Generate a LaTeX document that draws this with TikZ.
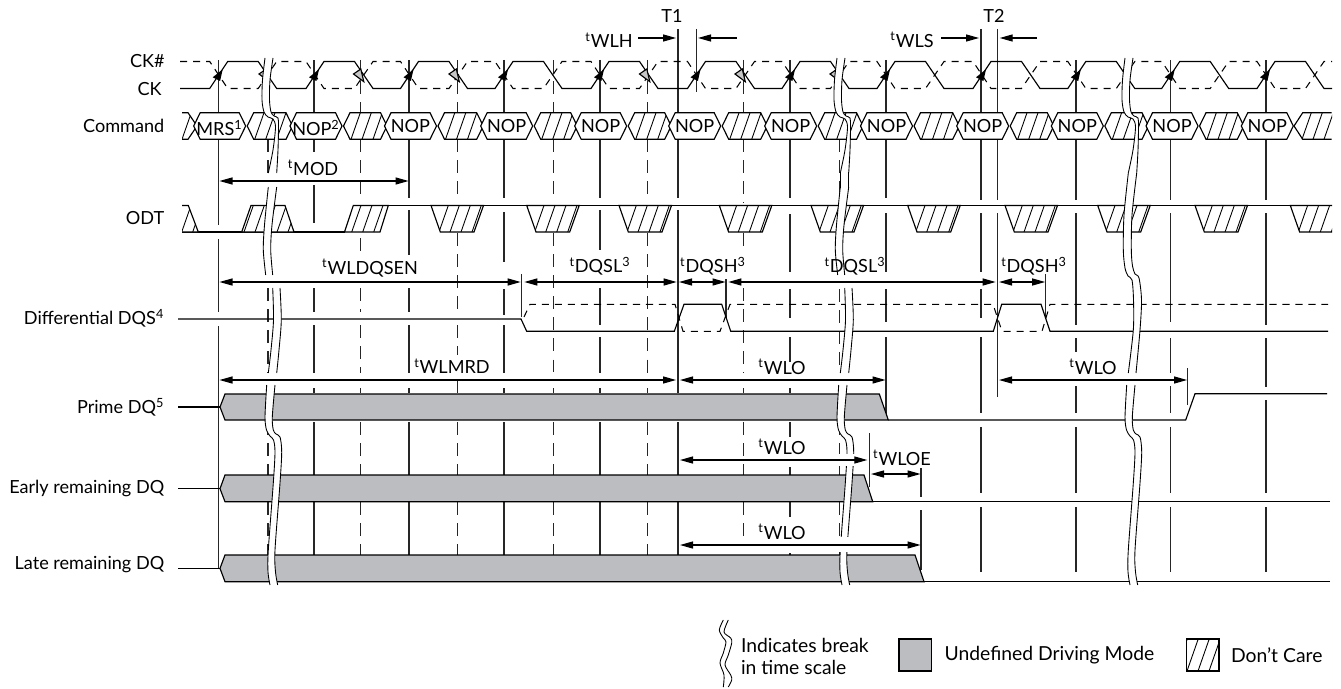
\documentclass[tikz,border=0pt]{standalone}
\usepackage{fontspec}
\setmainfont{Lato}
\usepackage{tikz}
\usetikzlibrary{arrows.meta}

\definecolor{undefgray}{HTML}{BCBDC0}
\newcommand{\tparam}[1]{\textsuperscript{t}#1}
% #1 closed path, #2 first hatch x, #3 lower y, #4 upper y
\newcommand{\hatchfill}[4]{%
  \fill[white] #1;
  \begin{scope}
    \clip #1;
    \foreach \h in {0,11,...,66}
      \draw[hatchline] (#2+\h,#3) -- (#2+\h+0.35*#3-0.35*#4,#4);
  \end{scope}
}
\newcommand{\hatchshape}[4]{\hatchfill{#1}{#2}{#3}{#4}\draw[wave] #1;}
% #1 left curve from top to bottom, #2 right curve from bottom to top
\newcommand{\breakpart}[2]{%
  \fill[white] plot[smooth] coordinates {#1} -- plot[smooth] coordinates {#2} -- cycle;
  \draw[breakline] plot[smooth] coordinates {#1};
  \draw[breakline] plot[smooth] coordinates {#2};
}
\newcommand{\breaktop}{\breakpart
  {(265,58)(262.5,80)(262,100)(264,112)(268,117)(273,119)(275.5,127)(273,150)(268.3,173)}
  {(276.7,173)(278,150)(278.5,127)(278,118)(274,116)(271,112)(269.5,100)(270,80)(273,58)}}
\newcommand{\breakmid}{\breakpart
  {(268.3,187)(264.5,225)(263.3,250)(265.7,275)}
  {(272.7,275)(270.7,250)(272,225)(276.7,187)}}
\newcommand{\breaklow}{\breakpart
  {(272.7,288)(273.5,320)(271,350)(268.3,373)}
  {(276.7,373)(279,350)(281.3,320)(280,288)}}
\newcommand{\breakend}{\breakpart
  {(266.7,385)(265,417)(266.5,430)(270,436)(273.5,440)(275,452)(273.3,483)(268.3,550)(268,572)(270,585)}
  {(277.7,585)(275.5,572)(275,550)(280,483)(281.7,452)(280,437)(276,434)(273.3,430)(272.3,417)(275,385)}}

\begin{document}
\begin{tikzpicture}[
    x=0.02cm,
    y=-0.02cm,
    font=\fontsize{10.3pt}{12pt}\selectfont,
    every node/.style={inner sep=0pt},
    wave/.style={line width=0.65pt, line join=miter},
    waveDash/.style={line width=0.6pt, dash pattern=on 4pt off 3.4pt},
    gridline/.style={line width=0.65pt, black!85},
    griddash/.style={line width=0.65pt, black!85, dash pattern=on 7.4pt off 4.6pt},
    hatchline/.style={line width=0.5pt},
    breakline/.style={line width=0.5pt},
    span/.style={line width=0.65pt, {Triangle[length=7.4pt,width=4pt]}-{Triangle[length=7.4pt,width=4pt]}},
    pointer/.style={line width=0.65pt, -{Triangle[length=7.4pt,width=4pt]}},
    sig/.style={anchor=east},
    lab/.style={anchor=center},
    legend/.style={anchor=west, font=\fontsize{11pt}{13pt}\selectfont}
  ]
    \useasboundingbox (0,0) rectangle (1341,689);

    % vertical guides
    \foreach \x/\segs in {
        218.7/{60/112,139/225,239/312,326/568},
        314/{60/112,139/152,185/223,288/312,325/373,388/393,422/475,502/555},
        409/{60/112,139/198,210/255,288/312,325/373,388/393,422/475,502/555},
        504/{60/112,139/198,212/262,289/315,325/373,388/393,422/475,502/555},
        600/{60/112,139/198,210/250,288/325,337/373,388/393,422/475,502/555},
        678/{29/112,139/198,210/393,422/475,502/555},
        696.3/{29/92},
        790/{60/112,139/198,214/272,289/318,337/362,388/393,422/437,467/475,502/517,553/555},
        886/{60/112,139/198,213/272,289/322,337/420},
        981/{29/112,139/200,213/272,289/318,337/413,427/493,507/572},
        997.7/{29/112,139/200,213/397},
        1076/{60/112,139/200,213/325,338/352,386/413,427/493,507/572},
        1170.5/{60/112,139/200,213/322,338/373,386/413,427/493,507/572},
        1266/{60/112,139/200,213/325,338/387,400/493,507/572},
        521.7/{274/317},
        726/{279/318},
        1045.7/{274/317},
        869.7/{433/487},
        921/{468/497,510/570},
        1187.7/{368/405}}
      {\foreach \a/\b in \segs {\draw[gridline] (\x,\a) -- (\x,\b);}}
    \foreach \x/\segs in {
        268/{60/112,139/173,288/373,388/393,422/475,502/555},
        360.5/{60/112,139/200,238/253,288/312,325/373,388/393,422/475,502/555},
        457.3/{60/112,139/198,233/312,325/355,380/393,422/475,502/555},
        553.7/{60/112,139/198,233/372,388/393,422/475,502/555},
        647.3/{60/112,139/198,233/373,388/393,422/475,502/555},
        743.3/{60/112,139/203,233/250,288/373,388/393,422/475,502/537},
        839.3/{60/112,139/200,233/262,289/373,388/393,422/475,502/555}}
      {\foreach \a/\b in \segs {\draw[griddash] (\x,\a) -- (\x,\b);}}

    % clocks
    \draw[wave] (180,88.5) foreach \r in {218.7,315,409.5,504,600,696.5,791,886,982,1076.8,1170.7,1266}
      { -- (\r-9,88.5) -- (\r+9,61.5) -- (\r+39.5,61.5) -- (\r+58,88.5) } -- (1332,88.5);
    \draw[waveDash] (180,61.5) foreach \r in {218.7,315,409.5,504,600,696.5,791,886,982,1076.8,1170.7,1266}
      { -- (\r-9,61.5) -- (\r+9,88.5) -- (\r+39.5,88.5) -- (\r+58,61.5) } -- (1332,61.5);
    \foreach \r in {218.7,315,409.5,504,600,696.5,791,886,982,1076.8,1170.7,1266}
      \fill (\r+4,69.3) -- (\r-6,77.3) -- (\r+1.4,81) -- cycle;
    \foreach \f in {267,361.5,457,647.5,743,838}
      \filldraw[wave, fill=gray!45] (\f-8,74) -- (\f-0.7,69) -- (\f+2.3,81.7) -- cycle;

    % command bus
    \hatchfill{(182,112.7) -- (188,112.7) -- (197,126) -- (188,139.3) -- (182,139.3) -- cycle}{182}{139.3}{112.7}
    \draw[wave] (182,112.7) -- (188,112.7) -- (197,126) -- (188,139.3) -- (182,139.3);
    \foreach \c/\d in {219.7/316,316/410.5,410.5/506.7,506.7/600.7,600.7/694.7,694.7/790.7,790.7/886.5,886.5/982.7,982.7/1077.3,1077.3/1172,1172/1267.3}
      {\hatchshape{(\c+27.5,126) -- (\c+34,112.7) -- (\d-30,112.7) -- (\d-23.5,126) -- (\d-30,139.3) -- (\c+34,139.3) -- cycle}{\c+35}{139.3}{112.7}}
    \begin{scope}
      \clip (1294,112) rectangle (1332,140);
      \foreach \h in {0,11,22,33}
        \draw[hatchline] (1302+\h,139.3) -- (1311.3+\h,112.7);
    \end{scope}
    \draw[wave] (1331.7,112.7) -- (1302.7,112.7) -- (1294,126) -- (1302.7,139.3) -- (1331.7,139.3);
    \foreach \c in {219.7,316,410.5,506.7,600.7,694.7,790.7,886.5,982.7,1077.3,1172,1267.3}
      \draw[wave, fill=white] (\c-26,126) -- (\c-19.5,112.7) -- (\c+19.5,112.7) -- (\c+26,126) -- (\c+19.5,139.3) -- (\c-19.5,139.3) -- cycle;
    \node[lab] (mrs) at (219.5,128) {MRS\textsuperscript{1}};
    \node[lab] (nopa) at (316,128) {NOP\textsuperscript{2}};
    \foreach \c/\n in {410.5/b,506.7/c,600.7/d,694.7/e,790.7/f,886.5/g,982.7/h,1077.3/i,1172/j,1267.3/k}
      \node[lab] (nop\n) at (\c,126) {NOP};

    % ODT
    \draw[wave] (182,232) -- (345,232);
    \draw[wave] (353,205.5) -- (1332,205.5);
    \hatchfill{(182,205.5) -- (188.3,205.5) -- (198.3,232) -- (182,232) -- cycle}{181.7}{232}{205.5}
    \draw[wave] (182,205.5) -- (188.3,205.5) -- (198.3,232) -- (182,232);
    \hatchshape{(241.7,232) -- (251,205.5) -- (285,205.5) -- (294,232) -- cycle}{244}{232}{205.5}
    \hatchshape{(344.5,232) -- (353.3,205.5) -- (388.3,205.5) -- (380,232) -- cycle}{351.7}{232}{205.5}
    \foreach \a in {431,526.7,619,719.3,811,907.7,1005,1097.7,1195}
      {\hatchshape{(\a,205.5) -- (\a+9.3,232) -- (\a+43,232) -- (\a+52.5,205.5) -- cycle}{\a+8}{232}{205.5}}
    \begin{scope}
      \clip (1285,200) rectangle (1332,236);
      \hatchshape{(1290.3,205.5) -- (1299.6,232) -- (1333.3,232) -- (1342.8,205.5) -- cycle}{1298.3}{232}{205.5}
    \end{scope}

    % differential DQS
    \draw[wave] (178,319) -- (521,319) -- (526.7,331.3) -- (674.3,331.3) -- (684,304.3) -- (721.7,304.3) -- (730.7,331.3)
      -- (993.3,331.3) -- (1001.7,304.3) -- (1041,304.3) -- (1050,331.3) -- (1328,331.3);
    \draw[waveDash] (524,317) -- (530,304.3) -- (675,304.3) -- (683,331.3) -- (720,331.3) -- (730,304.3) -- (993,304.3)
      -- (1002,331.3) -- (1042,331.3) -- (1050,304.3) -- (1328,304.3);

    % DQ rows
    \draw[wave] (178,407) -- (220,407);
    \draw[wave, fill=undefgray] (220,407) -- (225,394) -- (879.3,394) -- (888.3,420) -- (225,420) -- cycle;
    \draw[wave] (888.3,420) -- (1185.7,420) -- (1195,393.7) -- (1327,393.7);
    \draw[wave] (178,488.7) -- (220,488.7);
    \draw[wave, fill=undefgray] (220,488.7) -- (225,475) -- (864,475) -- (872.7,501.7) -- (225,501.7) -- cycle;
    \draw[wave] (872.7,501.7) -- (1330,501.7);
    \draw[wave] (178,568.3) -- (220,568.3);
    \draw[wave, fill=undefgray] (220,568.3) -- (225,555) -- (915,555) -- (924,581.7) -- (225,581.7) -- cycle;
    \draw[wave] (924,581.7) -- (1330,581.7);

    % time scale breaks
    \breaktop \breakmid \breaklow \breakend
    \begin{scope}[shift={(572,0)}]
      \breaktop \breakmid
      \breakpart{(268.3,172)(268.3,188)}{(276.7,188)(276.7,172)}
      \breaklow \breakend
    \end{scope}
    \fill[white] (838,454) rectangle (858,466);
    \fill[white] (836,537) rectangle (856,552);
    \begin{scope}[shift={(860,0)}]
      \breaktop \breakend
    \end{scope}
    \breakpart
      {(1128.3,173)(1124,215)(1123.3,250)(1125,268)(1128,276)(1132,280)(1133.5,300)(1133.3,330)(1128.3,373)}
      {(1136,373)(1140,330)(1141.5,300)(1139,278)(1135,274)(1132.5,266)(1131.3,250)(1132,215)(1136.7,173)}

    % timing spans
    \draw[span] (219.5,181) -- (408.5,181);
    \node[lab] (tmod) at (313,168) {\tparam{MOD}};
    \draw[span] (219.5,282) -- (520.7,282);
    \node[lab] (twldqsen) at (370,268) {\tparam{WLDQSEN}};
    \draw[span] (524.3,282) -- (676.7,282);
    \node[lab] (tdqsla) at (600,266) {\tparam{DQSL}\textsuperscript{3}};
    \draw[span] (679,282) -- (725.5,282);
    \node[lab] (tdqsha) at (713,266) {\tparam{DQSH}\textsuperscript{3}};
    \draw[span] (728.3,282) -- (995.7,282);
    \node[lab] (tdqslb) at (855,266) {\tparam{DQSL}\textsuperscript{3}};
    \draw[span] (999,282) -- (1045.2,282);
    \node[lab] (tdqshb) at (1034,266) {\tparam{DQSH}\textsuperscript{3}};
    \draw[span] (219.5,380) -- (676,380);
    \node[lab] (twlmrd) at (452,366) {\tparam{WLMRD}};
    \draw[span] (680,380) -- (885.5,380);
    \node[lab] (twloa) at (782,367) {\tparam{WLO}};
    \draw[span] (999,380) -- (1187,380);
    \node[lab] (twlob) at (1093,367) {\tparam{WLO}};
    \draw[span] (680,460) -- (867.3,460);
    \node[lab] (twloc) at (782,447) {\tparam{WLO}};
    \draw[span] (871,474) -- (920.5,474);
    \node[lab] (twloe) at (902,458) {\tparam{WLOE}};
    \draw[span] (680,545) -- (920.5,545);
    \node[lab] (twlod) at (782,532) {\tparam{WLO}};

    % T1 and T2
    \node[lab] (tone) at (672,16) {T1};
    \node[lab] (ttwo) at (994,16) {T2};
    \node[lab] (twlh) at (609,40) {\tparam{WLH}};
    \node[lab] (twls) at (912,40) {\tparam{WLS}};
    \draw[pointer] (638,38) -- (676,38);
    \draw[pointer] (736.7,38) -- (698,38);
    \draw[pointer] (941,38) -- (979,38);
    \draw[pointer] (1037,38) -- (999.7,38);

    % signal names
    \node[sig] (cksharp) at (165,61) {CK\#};
    \node[sig] (ck) at (162,89) {CK};
    \node[sig] (command) at (164.6,126) {Command};
    \node[sig] (odt) at (164.6,218) {ODT};
    \node[sig] (dqs) at (164.6,318) {Differential DQS\textsuperscript{4}};
    \node[sig] (prime) at (164.6,407) {Prime DQ\textsuperscript{5}};
    \node[sig] (early) at (164.6,488) {Early remaining DQ};
    \node[sig] (late) at (164.6,565) {Late remaining DQ};

    % legend
    \draw[breakline] plot[smooth] coordinates {(723.3,620)(719.3,630)(723.3,638)(726,642)(723.3,653)(720,663)(724,675)(723.3,687)};
    \draw[breakline] plot[smooth] coordinates {(728.3,620)(724,632)(730.7,638)(731.7,643)(728.3,655)(725,665)(730.7,675)(731.7,680)(728.3,687)};
    \node[legend] (breaka) at (740.7,645) {Indicates break};
    \node[legend] (breakb) at (740.7,667) {in time scale};
    \draw[wave, fill=undefgray] (899,639) rectangle (931.7,671);
    \node[legend] (undef) at (944.3,655) {Undefined Driving Mode};
    \hatchshape{(1186.7,639) -- (1219,639) -- (1219,671) -- (1186.7,671) -- cycle}{1176}{671}{639}
    \node[legend] (dontcare) at (1230.7,655) {Don’t Care};
  \end{tikzpicture}
\end{document}
